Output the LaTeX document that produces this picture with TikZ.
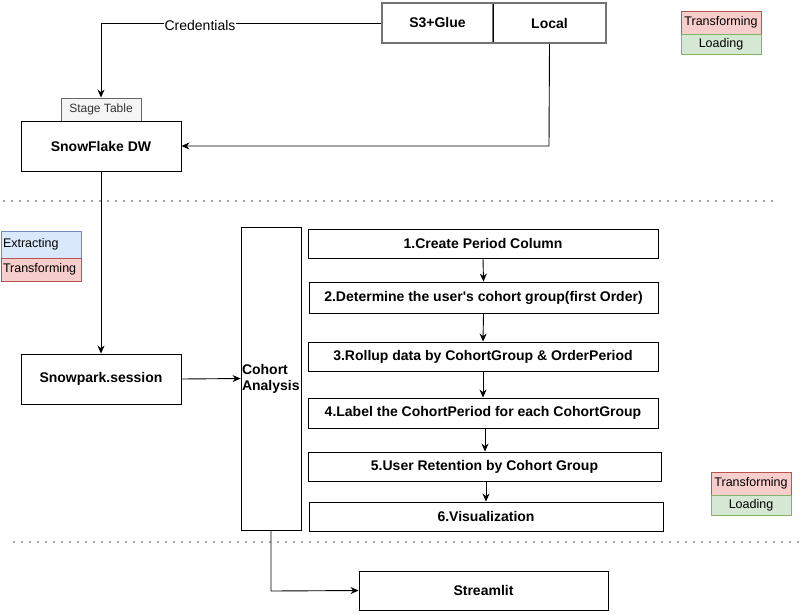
\documentclass[tikz,border=0pt]{standalone}
\usepackage{fontspec}
\setmainfont{Liberation Sans}
\usetikzlibrary{arrows.meta}
\definecolor{redfill}{HTML}{F8CECC}
\definecolor{redline}{HTML}{B85450}
\definecolor{greenfill}{HTML}{D5E8D4}
\definecolor{greenline}{HTML}{82B366}
\definecolor{bluefill}{HTML}{DAE8FC}
\definecolor{blueline}{HTML}{6C8EBF}
\definecolor{stagefill}{HTML}{F5F5F5}
\definecolor{stageline}{HTML}{666666}
\definecolor{stagetext}{HTML}{333333}
\begin{document}
\begin{tikzpicture}[x=1pt,y=-1pt,
  box/.style={draw=black, line width=0.9pt, fill=white, inner sep=1pt, font=\fontsize{14}{16}\selectfont\bfseries, align=center},
  tbl/.style={draw=black!55, line width=1.5pt, fill=white, inner sep=1pt, font=\fontsize{14}{16}\selectfont\bfseries},
  legred/.style={draw=redline, fill=redfill, line width=0.9pt, inner sep=0pt, font=\fontsize{12.5}{14}\selectfont, minimum width=80pt, minimum height=23pt},
  leggreen/.style={draw=greenline, fill=greenfill, line width=0.9pt, inner sep=0pt, font=\fontsize{12.5}{14}\selectfont, minimum width=80pt, minimum height=20pt},
  legblue/.style={draw=blueline, fill=bluefill, line width=0.9pt, inner sep=2pt, font=\fontsize{12.5}{14}\selectfont, minimum width=80pt, minimum height=27pt, text width=76pt, align=left},
  conn/.style={draw=black, line width=0.9pt, -{Stealth[length=8pt,width=7pt]}},
  sep/.style={draw=black!70, line width=1.7pt, line cap=round, dash pattern=on 0pt off 8pt}
]
\useasboundingbox (0,0) rectangle (803,614);

% top table
\node[tbl, minimum width=111pt, minimum height=40pt] (s3) at (437.5,23) {S3+Glue};
\node[tbl, minimum width=113pt, minimum height=40pt] (local) at (549.5,23) {Local};
\draw[black, line width=0.9pt] (493,4) -- (493,42);

% legend top right
\node[legred] (lt1) at (721,22.5) {Transforming};
\node[leggreen] (lt2) at (721,44) {Loading};

% snowflake
\node[draw=stageline, fill=stagefill, line width=0.9pt, minimum width=80pt, minimum height=23pt, inner sep=0pt, text=stagetext, font=\fontsize{12}{14}\selectfont] (stage) at (101,109.5) {Stage Table};
\node[box, minimum width=160pt, minimum height=50pt] (sf) at (101,146) {SnowFlake DW};

% credentials connector
\coordinate (credcorner) at (101,23);
\draw[conn] (s3.west) -- (credcorner) -- (stage.north);
\node[fill=white, inner sep=1pt, font=\fontsize{14}{16}\selectfont] (cred) at (200,25) {Credentials};

% local -> snowflake
\coordinate (lcorner) at (549,146);
\draw[conn] (local.south) -- (lcorner) -- (sf.east);

% separator 1
\coordinate (sepa1) at (4,201);
\coordinate (sepb1) at (772,201);
\draw[sep] (sepa1) -- (sepb1);

% legend left
\node[legblue] (ll1) at (41,244.5) {Extracting};
\node[legred, text width=76pt, align=left, inner sep=2pt] (ll2) at (41,269.5) {Transforming};

% snowpark
\node[box, minimum width=160pt, minimum height=50pt] (sp) at (101,379) {Snowpark.session};
\draw[conn] (sf.south) -- (sp.north);

% cohort analysis
\node[box, minimum width=60pt, minimum height=303pt, text width=58pt, align=left] (ca) at (271,378.5) {Cohort\\Analysis};
\draw[conn] (sp.east) -- (ca.west);

% steps
\node[box, minimum width=350pt, minimum height=29pt] (st1) at (483,243.5) {1.Create Period Column};
\node[box, minimum width=349pt, minimum height=31pt] (st2) at (483.5,297.5) {2.Determine the user\textquotesingle s cohort group(first Order)};
\node[box, minimum width=350pt, minimum height=29pt] (st3) at (483,356.5) {3.Rollup data by CohortGroup \& OrderPeriod};
\node[box, minimum width=350pt, minimum height=30pt] (st4) at (483,413) {4.Label the CohortPeriod for each CohortGroup};
\node[box, minimum width=353pt, minimum height=29pt] (st5) at (484.5,466.5) {5.User Retention by Cohort Group};
\node[box, minimum width=354pt, minimum height=29pt] (st6) at (486,516.5) {6.Visualization};
\draw[conn] (st1.south) -- (st2.north);
\draw[conn] (st2.south) -- (st3.north);
\draw[conn] (st3.south) -- (st4.north);
\draw[conn] (st4.south -| 485,0) -- (st5.north -| 485,0);
\draw[conn] (st5.south -| 486,0) -- (st6.north -| 486,0);

% legend bottom right
\node[legred] (lb1) at (751,483.5) {Transforming};
\node[leggreen] (lb2) at (751,505) {Loading};

% separator 2
\coordinate (sepa2) at (14,542);
\coordinate (sepb2) at (800,542);
\draw[sep] (sepa2) -- (sepb2);

% streamlit
\node[box, minimum width=249pt, minimum height=39pt] (stl) at (483.5,590.5) {Streamlit};
\coordinate (scorner) at (271,591);
\draw[conn] (ca.south) -- (scorner) -- (stl.west);
\end{tikzpicture}
\end{document}
